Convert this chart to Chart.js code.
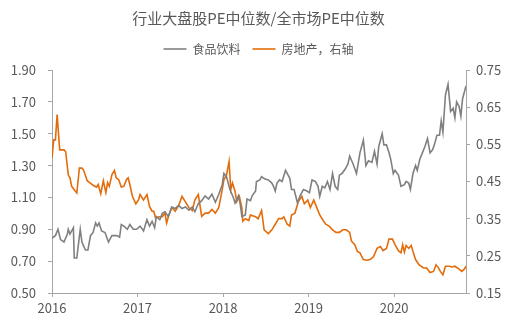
<!DOCTYPE html>
<html>
<head>
<meta charset="utf-8">
<script src="https://cdn.jsdelivr.net/npm/chart.js@4/dist/chart.umd.min.js"></script>
<style>
html,body{margin:0;padding:0;background:#fff;}
#wrap{width:517px;height:322px;}
</style>
</head>
<body>
<div id="wrap"><canvas id="c" width="517" height="322"></canvas></div>
<script>
const titleText = '行业大盘股PE中位数/全市场PE中位数';
const seriesNames = ['食品饮料', '房地产，右轴'];
const xTickYears = [2016, 2017, 2018, 2019, 2020];
const leftTicks = [0.50, 0.70, 0.90, 1.10, 1.30, 1.50, 1.70, 1.90];
const rightTicks = [0.15, 0.25, 0.35, 0.45, 0.55, 0.65, 0.75];

const foodYears = [2016.00,2016.04,2016.07,2016.10,2016.14,2016.18,2016.19,2016.21,2016.25,2016.26,2016.29,2016.33,2016.35,2016.39,2016.42,2016.45,2016.48,2016.51,2016.53,2016.55,2016.58,2016.62,2016.66,2016.70,2016.76,2016.79,2016.81,2016.84,2016.88,2016.91,2016.95,2016.99,2017.03,2017.07,2017.11,2017.14,2017.17,2017.20,2017.22,2017.26,2017.29,2017.32,2017.36,2017.40,2017.44,2017.48,2017.52,2017.56,2017.60,2017.64,2017.67,2017.71,2017.75,2017.79,2017.83,2017.87,2017.91,2017.95,2017.99,2018.01,2018.04,2018.06,2018.08,2018.12,2018.14,2018.18,2018.20,2018.22,2018.26,2018.28,2018.32,2018.34,2018.38,2018.39,2018.43,2018.45,2018.49,2018.53,2018.57,2018.59,2018.61,2018.63,2018.66,2018.69,2018.73,2018.76,2018.78,2018.80,2018.83,2018.87,2018.90,2018.94,2018.98,2019.01,2019.04,2019.08,2019.11,2019.13,2019.16,2019.19,2019.22,2019.25,2019.28,2019.31,2019.34,2019.36,2019.39,2019.43,2019.46,2019.48,2019.52,2019.56,2019.60,2019.64,2019.67,2019.70,2019.74,2019.77,2019.80,2019.82,2019.86,2019.88,2019.91,2019.94,2019.96,2019.99,2020.01,2020.05,2020.08,2020.12,2020.14,2020.17,2020.19,2020.22,2020.25,2020.27,2020.30,2020.33,2020.36,2020.39,2020.42,2020.45,2020.47,2020.50,2020.53,2020.55,2020.57,2020.60,2020.63,2020.66,2020.69,2020.71,2020.73,2020.76,2020.78,2020.80,2020.84];
const foodPE = [0.845,0.86,0.90,0.835,0.82,0.87,0.90,0.87,0.91,0.72,0.72,0.90,0.82,0.77,0.77,0.86,0.88,0.94,0.92,0.94,0.89,0.88,0.82,0.86,0.86,0.85,0.93,0.92,0.90,0.93,0.90,0.90,0.92,0.89,0.96,0.92,0.95,0.91,0.98,0.96,1.00,1.01,0.98,1.04,1.03,1.05,1.03,1.04,1.02,1.04,1.01,1.06,1.08,1.11,1.09,1.12,1.07,1.12,1.18,1.25,1.23,1.19,1.15,1.10,1.065,1.11,1.06,0.98,0.99,1.09,1.08,1.11,1.14,1.20,1.21,1.23,1.215,1.21,1.19,1.17,1.14,1.19,1.21,1.20,1.27,1.24,1.22,1.15,1.15,1.065,1.11,1.15,1.14,1.13,1.21,1.20,1.17,1.107,1.17,1.16,1.20,1.15,1.25,1.17,1.15,1.24,1.25,1.28,1.31,1.36,1.31,1.25,1.38,1.46,1.30,1.33,1.32,1.39,1.31,1.42,1.50,1.43,1.43,1.38,1.34,1.25,1.27,1.24,1.17,1.18,1.20,1.19,1.15,1.25,1.30,1.27,1.34,1.38,1.42,1.47,1.38,1.40,1.43,1.49,1.49,1.58,1.51,1.745,1.81,1.64,1.66,1.60,1.70,1.67,1.61,1.72,1.80];

const estateYears = [2016.00,2016.02,2016.04,2016.06,2016.09,2016.14,2016.16,2016.19,2016.21,2016.23,2016.26,2016.29,2016.32,2016.35,2016.37,2016.40,2016.41,2016.44,2016.48,2016.52,2016.54,2016.57,2016.60,2016.63,2016.65,2016.67,2016.70,2016.73,2016.75,2016.78,2016.81,2016.84,2016.87,2016.89,2016.91,2016.94,2016.98,2017.01,2017.03,2017.07,2017.11,2017.14,2017.17,2017.19,2017.21,2017.25,2017.29,2017.32,2017.34,2017.36,2017.40,2017.44,2017.48,2017.52,2017.56,2017.60,2017.64,2017.67,2017.71,2017.75,2017.79,2017.83,2017.87,2017.91,2017.95,2017.99,2018.01,2018.04,2018.07,2018.09,2018.11,2018.14,2018.16,2018.19,2018.22,2018.23,2018.26,2018.30,2018.32,2018.38,2018.41,2018.45,2018.48,2018.53,2018.57,2018.61,2018.65,2018.69,2018.71,2018.75,2018.78,2018.80,2018.84,2018.88,2018.92,2018.95,2018.99,2019.02,2019.06,2019.09,2019.13,2019.17,2019.20,2019.24,2019.28,2019.32,2019.36,2019.40,2019.44,2019.48,2019.50,2019.54,2019.57,2019.60,2019.64,2019.68,2019.72,2019.76,2019.80,2019.84,2019.87,2019.91,2019.94,2019.98,2020.01,2020.05,2020.08,2020.10,2020.12,2020.14,2020.17,2020.20,2020.22,2020.25,2020.29,2020.34,2020.38,2020.42,2020.46,2020.49,2020.52,2020.54,2020.57,2020.60,2020.64,2020.68,2020.71,2020.76,2020.79,2020.82,2020.84];
const estatePE = [0.513,0.562,0.562,0.63,0.535,0.535,0.53,0.468,0.46,0.437,0.428,0.419,0.486,0.486,0.48,0.46,0.452,0.447,0.44,0.435,0.442,0.417,0.452,0.42,0.447,0.437,0.468,0.48,0.46,0.455,0.435,0.437,0.455,0.46,0.442,0.41,0.39,0.40,0.415,0.40,0.415,0.383,0.37,0.37,0.352,0.355,0.355,0.365,0.338,0.355,0.38,0.37,0.385,0.41,0.395,0.38,0.372,0.40,0.415,0.356,0.365,0.365,0.375,0.365,0.38,0.428,0.455,0.467,0.504,0.428,0.446,0.424,0.396,0.41,0.379,0.343,0.35,0.345,0.36,0.355,0.35,0.372,0.32,0.31,0.32,0.335,0.35,0.35,0.355,0.335,0.33,0.36,0.365,0.396,0.41,0.39,0.40,0.38,0.40,0.383,0.36,0.345,0.335,0.33,0.32,0.313,0.313,0.32,0.32,0.313,0.29,0.28,0.262,0.258,0.24,0.238,0.24,0.248,0.27,0.275,0.264,0.27,0.295,0.295,0.28,0.264,0.258,0.28,0.26,0.278,0.27,0.278,0.262,0.24,0.226,0.218,0.217,0.205,0.208,0.226,0.217,0.208,0.199,0.222,0.222,0.22,0.222,0.214,0.208,0.214,0.222];

const FONT = "'Noto Sans CJK SC', 'Noto Sans', sans-serif";
const TXT = '#595959';
const AXIS = '#A6A6A6';

const toXY = (xs, ys) => xs.map((x, i) => ({x: x, y: ys[i]}));

const legendSpacer = {
  id: 'legendSpacer',
  beforeInit(chart) {
    const origFit = chart.legend.fit;
    chart.legend.fit = function () {
      origFit.bind(chart.legend)();
      this.height += 5;
    };
  }
};

new Chart(document.getElementById('c'), {
  type: 'line',
  data: {
    datasets: [
      {label: seriesNames[0], data: toXY(foodYears, foodPE), yAxisID: 'yL',
       borderColor: '#808080', backgroundColor: '#808080', borderWidth: 1.6, pointRadius: 0, tension: 0},
      {label: seriesNames[1], data: toXY(estateYears, estatePE), yAxisID: 'yR',
       borderColor: '#E46C0A', backgroundColor: '#E46C0A', borderWidth: 1.6, pointRadius: 0, tension: 0}
    ]
  },
  options: {
    responsive: false,
    animation: false,
    devicePixelRatio: 1,
    layout: {padding: {left: 0, right: 0, top: 0, bottom: 0}},
    plugins: {
      title: {display: true, text: titleText, color: TXT,
              font: {family: FONT, size: 15, weight: 'normal'}, padding: {top: 9, bottom: 4}},
      legend: {display: true, position: 'top',
               labels: {color: TXT, font: {family: FONT, size: 12}, usePointStyle: true,
                        pointStyle: 'line', pointStyleWidth: 23, padding: 12}},
      tooltip: {enabled: false}
    },
    scales: {
      x: {type: 'linear', min: 2016, max: 2020.84,
          afterBuildTicks: (s) => { s.ticks = xTickYears.map(v => ({value: v})); },
          afterFit: (s) => { s.height = 29; },
          ticks: {color: TXT, font: {family: FONT, size: 13}, padding: 3, maxRotation: 0,
                  callback: (v) => String(v)},
          grid: {drawOnChartArea: false, drawTicks: true, tickLength: 4, color: AXIS},
          border: {display: true, color: AXIS}},
      yL: {type: 'linear', position: 'left', min: 0.5, max: 1.9,
           afterBuildTicks: (s) => { s.ticks = leftTicks.map(v => ({value: v})); },
           afterFit: (s) => { s.width = 52; },
           ticks: {color: TXT, font: {family: FONT, size: 13}, padding: 12,
                   callback: (v) => Number(v).toFixed(2)},
           grid: {drawOnChartArea: false, drawTicks: true, tickLength: 4, color: AXIS},
           border: {display: true, color: AXIS}},
      yR: {type: 'linear', position: 'right', min: 0.15, max: 0.75,
           afterBuildTicks: (s) => { s.ticks = rightTicks.map(v => ({value: v})); },
           afterFit: (s) => { s.width = 51; },
           ticks: {color: TXT, font: {family: FONT, size: 13}, padding: 6,
                   callback: (v) => Number(v).toFixed(2)},
           grid: {drawOnChartArea: false, drawTicks: true, tickLength: 4, color: AXIS},
           border: {display: true, color: AXIS}}
    }
  },
  plugins: [legendSpacer]
});
</script>
</body>
</html>
